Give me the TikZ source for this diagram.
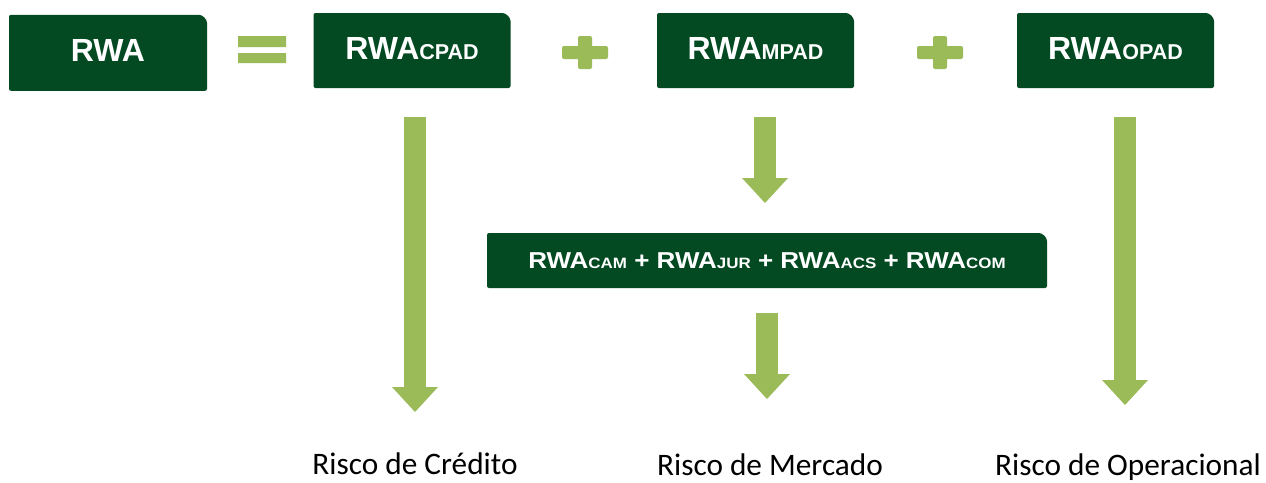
\documentclass[tikz,border=0pt]{standalone}
\usepackage{fontspec}
\usepackage{graphicx}
\setmainfont{Carlito}
\newfontfamily\boxfont{Liberation Sans}
\usetikzlibrary{arrows.meta,backgrounds}
\definecolor{darkgreen}{HTML}{034A22}
\definecolor{lightgreen}{HTML}{9BBB59}
\newcommand{\idx}[2][21.5pt]{{\fontsize{#1}{#1}\selectfont #2}}

\begin{document}
\begin{tikzpicture}[x=1pt,y=-1pt,
  box/.style={inner sep=0pt, outer sep=0pt, text=white, font=\boxfont\bfseries\fontsize{32}{32}\selectfont, text height=23pt, text depth=6pt},
  topbox/.style={box, minimum width=197pt, minimum height=75pt},
  risk/.style={anchor=base, inner sep=0pt, font=\fontsize{31.3}{31.3}\selectfont},
  fat/.style={lightgreen, line width=22pt, -{Triangle[width=46pt,length=25pt,line width=0pt]}}]
\useasboundingbox (0,0) rectangle (1266,482);
\node[topbox, minimum width=198pt, minimum height=76pt] (rwa) at (108,52.8) {RWA};
\node[topbox] (cpad) at (412,50.5) {RWA\idx{CPAD}};
\node[topbox] (mpad) at (755.5,50.5) {RWA\idx{MPAD}};
\node[topbox] (opad) at (1115.5,50.5) {RWA\idx{OPAD}};
\node[box, minimum width=560pt, minimum height=55pt, font=\boxfont\bfseries\fontsize{23}{23}\selectfont, text height=16.5pt, text depth=-1.5pt] (mkt) at (767,260.5)
  {\scalebox{1.13}[1]{RWA\idx[15pt]{CAM} + RWA\idx[15pt]{JUR} + RWA\idx[15pt]{ACS} + RWA\idx[15pt]{COM}}};
\begin{scope}[on background layer]
\foreach \n in {rwa,cpad,mpad,opad,mkt}
  \fill[darkgreen, rounded corners=2pt] (\n.south west) -- (\n.north west) -- ([xshift=-10pt]\n.north east) arc[start angle=90, end angle=0, radius=10pt] -- (\n.south east) -- cycle;
\end{scope}
\fill[lightgreen] (238,36) rectangle (286,47) (238,53) rectangle (286,63);
\foreach \c in {585,940}
  \fill[lightgreen, rounded corners=2pt] (\c-23,46) rectangle (\c+23,59) (\c-7,36) rectangle (\c+7,69);
\node[risk] (crd) at (415,474) {Risco de Crédito};
\node[risk] (mer) at (770,475) {Risco de Mercado};
\node[risk] (opr) at (1128,475.5) {Risco de Operacional};
\coordinate (tipc) at (415,412);
\coordinate (tipk) at (767,399);
\coordinate (tipo) at (1125,405);
\draw[fat, shorten <=29pt] (cpad.south -| tipc) -- (tipc);
\draw[fat, shorten <=29pt, shorten >=30pt] ([xshift=9.5pt]mpad.south) -- ([xshift=9.5pt]mpad.south |- mkt.north);
\draw[fat, shorten <=25pt] (mkt.south -| tipk) -- (tipk);
\draw[fat, shorten <=29pt] (opad.south -| tipo) -- (tipo);
\end{tikzpicture}
\end{document}
